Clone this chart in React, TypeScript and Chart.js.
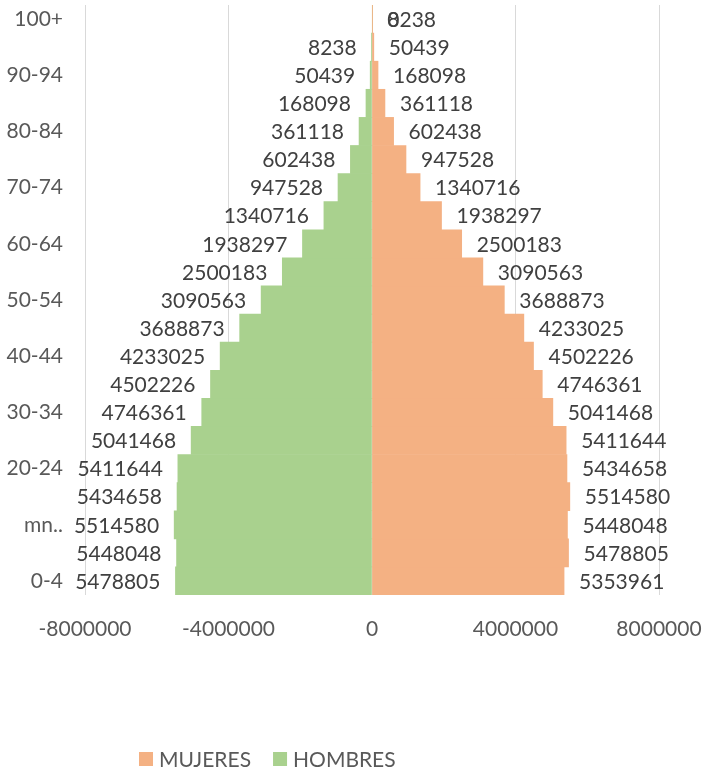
import { useEffect, useRef } from "react";
import { Chart, registerables } from "chart.js";

Chart.register(...registerables);

// Age groups, youngest first (the y axis is reversed so 0-4 sits at the bottom)
const grupos = [
  "0-4", "5-9", "mn..", "15-19", "20-24", "25-29", "30-34", "35-39", "40-44",
  "45-49", "50-54", "55-59", "60-64", "65-69", "70-74", "75-79", "80-84",
  "85-89", "90-94", "95-99", "100+",
];

const hombres = [
  5478805, 5448048, 5514580, 5434658, 5411644, 5041468, 4746361, 4502226,
  4233025, 3688873, 3090563, 2500183, 1938297, 1340716, 947528, 602438,
  361118, 168098, 50439, 8238, 0,
];

const mujeres = [
  5353961, 5478805, 5448048, 5514580, 5434658, 5411644, 5041468, 4746361,
  4502226, 4233025, 3688873, 3090563, 2500183, 1938297, 1340716, 947528,
  602438, 361118, 168098, 50439, 8238,
];

const ejeX = [-8000000, -4000000, 0, 4000000, 8000000];

const FUENTE = "Lato";
const TAM = 21;
const NARANJA = "#F4B183";
const VERDE = "#A9D18E";

// Value labels at the outer end of each bar (absolute values)
const etiquetas = {
  id: "etiquetas",
  afterDatasetsDraw(chart: any) {
    const ctx = chart.ctx;
    ctx.save();
    ctx.font = `${TAM}px ${FUENTE}`;
    ctx.fillStyle = "#404040";
    ctx.textBaseline = "middle";
    chart.data.datasets.forEach((ds: any, di: number) => {
      const meta = chart.getDatasetMeta(di);
      meta.data.forEach((el: any, i: number) => {
        const v = ds.data[i] as number;
        const txt = String(Math.abs(v));
        if (v < 0) {
          ctx.textAlign = "right";
          ctx.fillText(txt, el.x - 15, el.y + 1);
        } else {
          ctx.textAlign = "left";
          ctx.fillText(txt, el.x + 15, el.y + 1);
        }
      });
    });
    ctx.restore();
  },
};

// Legend row under the axis
const leyenda = {
  id: "leyenda",
  afterDraw(chart: any) {
    const ctx = chart.ctx;
    ctx.save();
    ctx.font = `${TAM}px ${FUENTE}`;
    ctx.textBaseline = "middle";
    ctx.textAlign = "left";
    let x = 139;
    const y = 759;
    chart.data.datasets.forEach((ds: any) => {
      ctx.fillStyle = ds.backgroundColor;
      ctx.fillRect(x, y - 7, 14, 14);
      ctx.fillStyle = "#595959";
      ctx.fillText(ds.label, x + 20, y + 1);
      x += 20 + ctx.measureText(ds.label).width + 22;
    });
    ctx.restore();
  },
};

export default function App() {
  const ref = useRef<HTMLCanvasElement | null>(null);

  useEffect(() => {
    if (!ref.current) return;
    const chart = new Chart(ref.current, {
      type: "bar",
      data: {
        labels: grupos,
        datasets: [
          {
            label: "MUJERES",
            data: mujeres,
            backgroundColor: NARANJA,
            barPercentage: 1,
            categoryPercentage: 1,
          },
          {
            label: "HOMBRES",
            data: hombres.map((v) => -v),
            backgroundColor: VERDE,
            barPercentage: 1,
            categoryPercentage: 1,
          },
        ],
      },
      options: {
        indexAxis: "y",
        responsive: false,
        animation: false,
        layout: { padding: { top: 5, right: 46, bottom: 126, left: 0 } },
        font: { family: FUENTE, size: TAM },
        plugins: {
          legend: { display: false },
          tooltip: { enabled: false },
        },
        scales: {
          x: {
            stacked: true,
            min: ejeX[0],
            max: ejeX[ejeX.length - 1],
            grid: { color: "#D9D9D9", lineWidth: 1, drawTicks: false },
            border: { display: false },
            ticks: {
              stepSize: ejeX[1] - ejeX[0],
              padding: 22,
              color: "#595959",
              font: { family: FUENTE, size: TAM },
              callback: (v: any) => String(v),
            },
            afterFit: (s: any) => {
              s.height = 50;
              s.paddingLeft = 0;
              s.paddingRight = 0;
            },
          },
          y: {
            stacked: true,
            reverse: true,
            grid: { display: false, drawTicks: false },
            border: { display: false },
            ticks: {
              autoSkip: false,
              padding: 22,
              color: "#595959",
              font: { family: FUENTE, size: TAM },
              callback: (_v: any, i: number) => (i % 2 === 0 ? grupos[i] : ""),
            },
            afterFit: (s: any) => {
              s.width = 85;
              s.paddingTop = 0;
              s.paddingBottom = 0;
            },
          },
        },
      } as any,
      plugins: [etiquetas, leyenda],
    });
    return () => chart.destroy();
  }, []);

  return (
    <div style={{ position: "absolute", left: 0, top: 0, width: 705, height: 771, background: "#fff" }}>
      <canvas ref={ref} width={705} height={771} style={{ display: "block" }} />
    </div>
  );
}
